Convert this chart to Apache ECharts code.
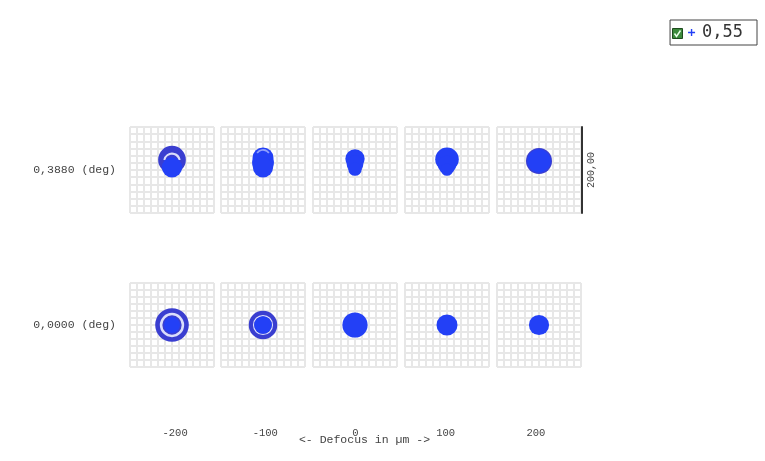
<!DOCTYPE html>
<html>
<head>
<meta charset="utf-8">
<script src="https://cdn.jsdelivr.net/npm/echarts@6/dist/echarts.min.js"></script>
<style>
  html, body { margin: 0; padding: 0; background: #fff; }
  #chart { width: 765px; height: 461px; }
</style>
</head>
<body>
<div id="chart"></div>
<script>
// Through-focus spot diagram: two field angles, five defocus positions.
const defocus = ['-200', '-100', '0', '100', '200'];
const fieldLabels = ['0,3880 (deg)', '0,0000 (deg)'];
const wavelengthLabel = '0,55';
const scaleLabel = '200,00';
const defocusTitle = '<- Defocus in \u00b5m ->';

// Each spot is a stack of layers in µm: [x, y, rOuter, rInner, startDeg, endDeg, tone]
const spotsField1 = [
  [[0, 24, 33, 0, 0, 360, 1], [0, 20, 21, 16, 190, 350, 2], [0, 6, 24, 0, 0, 360, 0]],
  [[0, 28, 25, 0, 0, 360, 0], [0, 17, 26, 0, 0, 360, 0], [0, 6, 24, 0, 0, 360, 0], [0, 30, 19, 15, 215, 325, 3]],
  [[0, 26, 23, 0, 0, 360, 0], [0, 14, 20, 0, 0, 360, 0], [0, 2, 16, 0, 0, 360, 0]],
  [[0, 25, 28, 0, 0, 360, 0], [0, 12, 22, 0, 0, 360, 0], [0, 1, 15, 0, 0, 360, 0]],
  [[0, 21, 31, 0, 0, 360, 1], [0, 21, 28, 0, 0, 360, 0]]
];
const spotsField0 = [
  [[0, 0, 40, 0, 0, 360, 1], [0, 0, 29, 23, 0, 360, 2], [0, 0, 19, 0, 0, 360, 0]],
  [[0, 0, 34, 0, 0, 360, 1], [0, 0, 24, 21, 0, 360, 2], [0, 0, 21, 0, 0, 360, 0]],
  [[0, 0, 30, 0, 0, 360, 0]],
  [[0, 0, 25, 0, 0, 360, 0]],
  [[0, 0, 24, 0, 0, 360, 0]]
];

const tones = ['#2340f6', '#3a3ed0', 'rgba(236,238,255,0.9)', 'rgba(190,200,255,0.7)'];
const spotBlue = '#2340f6';
const mono = 'Liberation Mono';

const panelLefts = [130, 221, 313, 405, 497];
const panelWidth = 84;
const rowTops = [127, 283];
const rowHeights = [86, 84];
const spotRows = [spotsField1, spotsField0];

function renderLayer(params, api) {
  const c = api.coord([api.value(0), api.value(1)]);
  const r = api.size([api.value(2), 0])[0];
  const r0 = api.size([api.value(3), 0])[0];
  const a0 = api.value(4) * Math.PI / 180;
  const a1 = api.value(5) * Math.PI / 180;
  const fill = tones[api.value(6)];
  if (api.value(5) - api.value(4) >= 360) {
    if (r0 > 0) {
      return { type: 'ring', shape: { cx: c[0], cy: c[1], r: r, r0: r0 }, style: { fill: fill } };
    }
    return { type: 'circle', shape: { cx: c[0], cy: c[1], r: r }, style: { fill: fill } };
  }
  return {
    type: 'sector',
    shape: { cx: c[0], cy: c[1], r: r, r0: r0, startAngle: a0, endAngle: a1 },
    style: { fill: fill }
  };
}

const grids = [], xAxes = [], yAxes = [], series = [];
const gridLine = { show: true, lineStyle: { color: '#e7e7e7', width: 2 } };

for (let row = 0; row < 2; row++) {
  for (let col = 0; col < 5; col++) {
    const gi = grids.length;
    grids.push({ left: panelLefts[col], top: rowTops[row], width: panelWidth, height: rowHeights[row] });
    xAxes.push({
      gridIndex: gi, type: 'value', min: -100, max: 100, interval: 100 / 6,
      axisLine: { show: false }, axisTick: { show: false }, axisLabel: { show: false },
      splitLine: gridLine
    });
    const y = {
      gridIndex: gi, type: 'value', min: -100, max: 100, interval: 100 / 6,
      axisLine: { show: false }, axisTick: { show: false }, axisLabel: { show: false },
      splitLine: gridLine
    };
    if (col === 0) {
      y.name = fieldLabels[row];
      y.nameLocation = 'middle';
      y.nameRotate = 0;
      y.nameGap = 14;
      y.nameTextStyle = { fontFamily: mono, fontSize: 11.5, color: '#444' };
    }
    if (row === 0 && col === 4) {
      y.position = 'right';
      y.offset = 1;
      y.axisLine = { show: true, onZero: false, lineStyle: { color: '#333', width: 2 } };
      y.name = scaleLabel;
      y.nameLocation = 'middle';
      y.nameRotate = 90;
      y.nameGap = 4;
      y.nameTextStyle = { fontFamily: mono, fontSize: 10, color: '#444' };
    }
    yAxes.push(y);
    series.push({
      name: wavelengthLabel,
      type: 'custom',
      xAxisIndex: gi, yAxisIndex: gi,
      color: spotBlue,
      renderItem: renderLayer,
      encode: { x: 0, y: 1 },
      data: spotRows[row][col],
      silent: true,
      animation: false
    });
  }
}

// Defocus axis beneath the panels
const bi = grids.length;
grids.push({ left: 130, width: 451, top: 422, height: 4 });
xAxes.push({
  gridIndex: bi, type: 'category', data: defocus, position: 'bottom',
  axisLine: { show: false }, axisTick: { show: false },
  axisLabel: { fontFamily: mono, fontSize: 10.5, color: '#444', margin: 2 },
  name: defocusTitle, nameLocation: 'middle', nameGap: 8, nameMoveOverlap: false,
  nameTextStyle: { fontFamily: mono, fontSize: 11.5, color: '#444', padding: [0, 0, 0, 18] }
});
yAxes.push({ gridIndex: bi, type: 'value', show: false });

const chart = echarts.init(document.getElementById('chart'), null, { renderer: 'canvas' });
chart.setOption({
  backgroundColor: '#fff',
  animation: false,
  grid: grids,
  xAxis: xAxes,
  yAxis: yAxes,
  series: series,
  legend: {
    right: 8, top: 20,
    data: [{ name: wavelengthLabel, icon: 'path://M4,0h2v4h4v2h-4v4h-2v-4h-4v-2h4z' }],
    itemWidth: 7, itemHeight: 7, itemGap: 5,
    padding: [4, 14, 4, 18],
    borderColor: '#444', borderWidth: 1,
    selectedMode: false,
    textStyle: { fontFamily: 'DejaVu Sans Mono', fontSize: 17, color: '#333', padding: [0, 0, 0, 2] }
  },
  graphic: [{
    type: 'group', left: 672, top: 28,
    children: [
      { type: 'rect', shape: { x: 0, y: 0, width: 10, height: 10 }, style: { fill: '#3c8a3c', stroke: '#1e4a1e', lineWidth: 1 } },
      { type: 'polyline', shape: { points: [[2, 5], [4, 8], [8, 2]] }, style: { stroke: '#eaffea', lineWidth: 1.5, fill: null } }
    ]
  }]
});
</script>
</body>
</html>
